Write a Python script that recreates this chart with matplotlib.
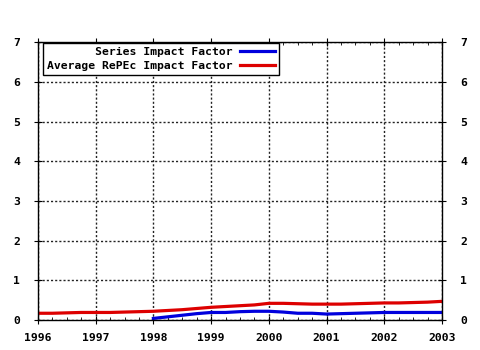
import numpy as np
import matplotlib.pyplot as plt
from matplotlib.ticker import MultipleLocator

# quarterly readings
red_x = np.arange(1996.0, 2003.01, 0.25)
red_y = [0.17, 0.17, 0.18, 0.19, 0.19, 0.19, 0.20, 0.21,
         0.22, 0.24, 0.26, 0.29, 0.32, 0.34, 0.36, 0.38,
         0.42, 0.42, 0.41, 0.40, 0.40, 0.40, 0.41, 0.42,
         0.43, 0.43, 0.44, 0.45, 0.47]
blue_x = np.arange(1998.0, 2003.01, 0.25)
blue_y = [0.04, 0.08, 0.12, 0.16, 0.19, 0.19, 0.21, 0.22,
          0.22, 0.20, 0.17, 0.17, 0.15, 0.16, 0.17, 0.18,
          0.19, 0.19, 0.19, 0.19, 0.19]
labels = ["       Series Impact Factor", "Average RePEc Impact Factor"]

plt.rcParams['font.family'] = 'DejaVu Sans Mono'
plt.rcParams['font.weight'] = 'bold'
plt.rcParams['font.size'] = 8.2

fig = plt.figure(figsize=(4.8, 3.5), dpi=100)
ax = fig.add_axes([0.079, 0.0857, 0.842, 0.794])

ax.plot(blue_x, blue_y, color='#0000dd', lw=2.3, label=labels[0])
ax.plot(red_x, red_y, color='#dd0000', lw=2.3, label=labels[1])

ax.set_xlim(1996, 2003)
ax.set_ylim(0, 7)
ax.xaxis.set_major_locator(MultipleLocator(1))
ax.xaxis.set_minor_locator(MultipleLocator(0.25))
ax.yaxis.set_major_locator(MultipleLocator(1))
ax.grid(True, which='major', linestyle=(0, (1.5, 1.5)), color='#222222', lw=1)
ax.tick_params(which='both', top=True, right=True, labelright=True)
ax.tick_params(which='major', direction='inout', length=6)
ax.tick_params(which='minor', direction='in', length=2)
ax.tick_params(axis='x', pad=6)
ax.tick_params(axis='y', pad=10)
for s in ax.spines.values():
    s.set_linewidth(1)

leg = ax.legend(loc='upper left', bbox_to_anchor=(0.012, 0.996), markerfirst=False,
                fancybox=False, edgecolor='black', framealpha=1, borderpad=0.35,
                labelspacing=0.3, handlelength=3, handletextpad=0.7, borderaxespad=0)
leg.get_frame().set_linewidth(1)

fig.savefig('out.png', dpi=100)
